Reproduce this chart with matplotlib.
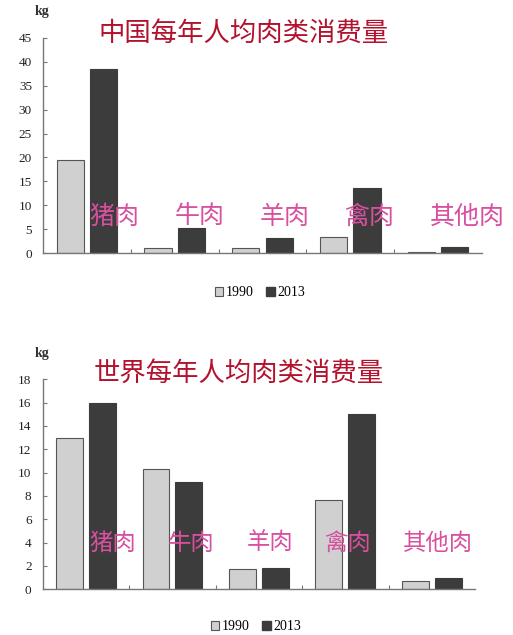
import matplotlib
matplotlib.use("Agg")
import matplotlib.pyplot as plt
from matplotlib.patches import Patch
import numpy as np

categories = ["猪肉", "牛肉", "羊肉", "禽肉", "其他肉"]
series_names = ["1990", "2013"]
china_1990 = [19.5, 1.0, 1.0, 3.3, 0.3]
china_2013 = [38.6, 5.2, 3.1, 13.7, 1.2]
world_1990 = [13.0, 10.3, 1.7, 7.65, 0.74]
world_2013 = [16.0, 9.2, 1.85, 15.0, 0.94]
china_title = "中国每年人均肉类消费量"
world_title = "世界每年人均肉类消费量"
unit = "kg"
china_yticks = [0, 5, 10, 15, 20, 25, 30, 35, 40, 45]
world_yticks = [0, 2, 4, 6, 8, 10, 12, 14, 16, 18]

plt.rcParams['font.family'] = ['Noto Sans CJK SC', 'DejaVu Sans']

W, H = 513, 635
fig = plt.figure(figsize=(W / 100, H / 100), dpi=100)

LIGHT = "#d0d0d0"
DARK = "#3c3c3c"
EDGE = "#555555"
AXC = "#777777"
TITLE_C = "#b3122e"
LABEL_C = "#d8509f"
serif = "Liberation Serif"


def panel(rect, v1, v2, yticks, title, title_xy, kg_xy, lab_x0, lab_dx, lab_y,
          lab_fs, legend_xy):
    ax = fig.add_axes(rect)
    x = np.arange(len(categories))
    w = 0.31
    off = 0.19
    ax.bar(x - off, v1, w, color=LIGHT, edgecolor=EDGE, linewidth=0.8)
    ax.bar(x + off, v2, w, color=DARK, edgecolor=DARK, linewidth=0.8)
    ax.set_xlim(-0.5, len(categories) - 0.5)
    ax.set_ylim(0, yticks[-1])
    ax.set_yticks(yticks)
    ax.set_yticklabels([str(t) for t in yticks], fontfamily=serif, fontsize=9.5,
                       color="#222222")
    ax.set_xticks(np.arange(len(categories) - 1) + 0.5)
    ax.set_xticklabels([])
    ax.tick_params(axis='y', direction='in', length=3, color=AXC, pad=8)
    ax.tick_params(axis='x', direction='in', length=3, color=AXC)
    for s in ("top", "right"):
        ax.spines[s].set_visible(False)
    for s in ("left", "bottom"):
        ax.spines[s].set_color(AXC)
        ax.spines[s].set_linewidth(1.0)
    for i, c in enumerate(categories):
        ax.text(lab_x0 + lab_dx * i, lab_y, c, transform=ax.transAxes,
                ha='left', va='center', fontsize=lab_fs, color=LABEL_C,
                zorder=5)
    fig.text(title_xy[0] / W, 1 - title_xy[1] / H, title, ha='left', va='center',
             fontsize=19, color=TITLE_C)
    fig.text(kg_xy[0] / W, 1 - kg_xy[1] / H, unit, ha='center', va='center',
             fontsize=10, fontfamily=serif, fontweight='bold', color="#333333")
    handles = [Patch(facecolor=LIGHT, edgecolor=EDGE, linewidth=0.8),
               Patch(facecolor=DARK, edgecolor=DARK)]
    fig.legend(handles, series_names, loc='center',
               bbox_to_anchor=(legend_xy[0] / W, 1 - legend_xy[1] / H),
               ncol=2, frameon=False, handlelength=0.6, handleheight=0.6,
               handletextpad=0.2, columnspacing=0.9,
               prop={'family': serif, 'size': 10})
    return ax


panel([43 / W, 1 - 253 / H, 439 / W, 215 / H], china_1990, china_2013,
      china_yticks, china_title, (98, 33), (42, 12), 0.105, 0.194, 0.167, 18,
      (260, 293))
panel([42.7 / W, 1 - 589.3 / H, 432.3 / W, 210 / H], world_1990, world_2013,
      world_yticks, world_title, (94, 373), (42, 353), 0.109, 0.181, 0.22, 16.8,
      (256, 627))

fig.savefig("out.png", dpi=100, facecolor="white")
